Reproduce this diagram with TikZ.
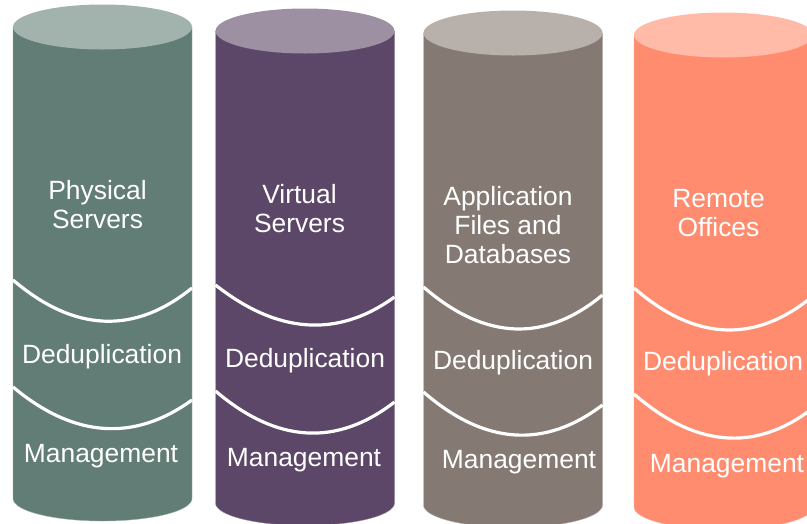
\documentclass[tikz,border=0pt]{standalone}
\usepackage{fontspec}
\setmainfont{Liberation Sans}
\definecolor{greenB}{HTML}{627D75}\definecolor{greenT}{HTML}{A2B2AD}
\definecolor{purpleB}{HTML}{5C4768}\definecolor{purpleT}{HTML}{9E90A3}
\definecolor{grayB}{HTML}{857A73}\definecolor{grayT}{HTML}{B8B0AB}
\definecolor{orangeB}{HTML}{FF8C6E}\definecolor{orangeT}{HTML}{FFBAA8}
\tikzset{
  label text/.style={text=white,inner sep=0pt,align=center,font=\fontsize{26.4}{29}\selectfont},
  wave/.style={draw=white,line width=3.2pt},
}
% #1 body, #2 top, #3 left x, #4 top-centre y, #5 bottom-side y
\newcommand{\cylshape}[5]{%
  \path[fill=#1,draw=#2,line width=0.4pt] (#3,#4) -- (#3,#5)
    arc[start angle=180,end angle=0,x radius=89.5,y radius=22.5]
    -- (#3+179,#4) -- cycle;
  \path[fill=#2] (#3+89.5,#4) ellipse[x radius=89.5,y radius=22.5];
}
% #1 left x, #2 left y, #3 right y, #4,#5 control y
\newcommand{\wavecurve}[5]{%
  \draw[wave] (#1,#2) .. controls (#1+61,#4) and (#1+121,#5) .. (#1+179,#3);
}
\begin{document}
\begin{tikzpicture}[x=1pt,y=-1pt]
\useasboundingbox (0,0) rectangle (807,523);
\clip (0,0) rectangle (807,523);
\cylshape{greenB}{greenT}{13}{27}{498.5}
\cylshape{purpleB}{purpleT}{215.5}{31}{503}
\cylshape{grayB}{grayT}{423.5}{33}{505}
\cylshape{orangeB}{orangeT}{634}{35}{507}
\wavecurve{13}{280}{288}{332}{335}
\wavecurve{13}{387}{400}{438}{442}
\wavecurve{215.5}{285}{297}{333}{339}
\wavecurve{215.5}{391}{402}{443}{447}
\wavecurve{423.5}{287}{295}{340}{343}
\wavecurve{423.5}{392}{405}{445}{449}
\wavecurve{634}{288}{296}{341}{344}
\wavecurve{634}{394}{408}{447}{453}
\node[label text] (p1) at (97.5,205) {Physical\\Servers};
\node[label text] (p2) at (102,357) {Deduplication};
\node[label text] (p3) at (101,456) {Management};
\node[label text] (v1) at (299.5,209) {Virtual\\Servers};
\node[label text] (v2) at (305,361) {Deduplication};
\node[label text] (v3) at (304,460) {Management};
\node[label text] (a1) at (508,225) {Application\\Files and\\Databases};
\node[label text] (a2) at (513,363) {Deduplication};
\node[label text] (a3) at (519,462) {Management};
\node[label text] (r1) at (718.5,213) {Remote\\Offices};
\node[label text] (r2) at (723,364) {Deduplication};
\node[label text] (r3) at (727,466) {Management};
\end{tikzpicture}
\end{document}
